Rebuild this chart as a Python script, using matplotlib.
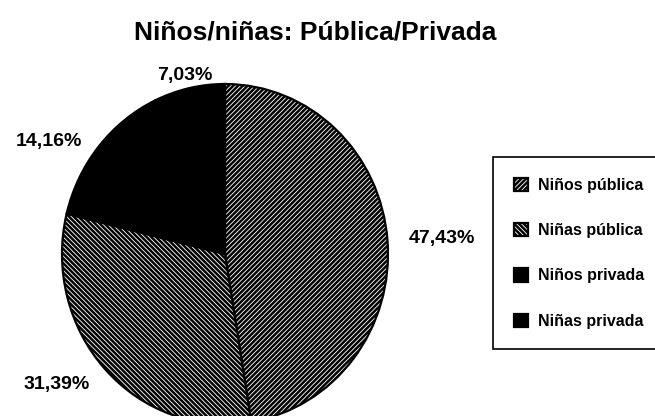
import matplotlib
matplotlib.use('Agg')
import matplotlib.pyplot as plt

plt.rcParams['font.family'] = ['Liberation Sans', 'DejaVu Sans']
plt.rcParams['hatch.linewidth'] = 1.8

title = 'Niños/niñas: Pública/Privada'
categories = ['Niños pública', 'Niñas pública', 'Niños privada', 'Niñas privada']
values = [47.43, 31.39, 14.16, 7.03]
hatches = ['/' * 7, '\\' * 7, '', '']
face_colors = ['white', 'white', 'black', 'black']

labels = [f'{v:.2f}%'.replace('.', ',') for v in values]

W, H = 655, 416
fig = plt.figure(figsize=(W / 100, H / 100), dpi=100)

# pie is drawn as a slightly tall ellipse, bottom runs off the page
ax = fig.add_axes([62 / W, -8 / H, 326 / W, 340 / H])
wedges, texts = ax.pie(values, labels=labels, startangle=90, counterclock=False,
                       colors=face_colors, labeldistance=1.13,
                       wedgeprops=dict(edgecolor='black', linewidth=1.6),
                       textprops=dict(fontsize=14, fontweight='bold'))
for w, h in zip(wedges, hatches):
    w.set_hatch(h)
    w.set_clip_on(False)
texts[2].set_va('top')
texts[3].set_ha('center')
texts[3].set_va('top')
ax.set_aspect('auto')
ax.set_xlim(-1, 1)
ax.set_ylim(-1, 1)
ax.axis('off')

fig.text(315 / W, 1 - 33 / H, title, ha='center', va='center',
         fontsize=19, fontweight='bold')

leg = fig.legend(wedges, categories, loc='upper left',
                 bbox_to_anchor=(493 / W, 1 - 157 / H), borderaxespad=0,
                 prop=dict(size=11.5, weight='bold'),
                 borderpad=1.29, labelspacing=1.89, handlelength=0.9,
                 handleheight=0.9, handletextpad=0.65,
                 fancybox=False, framealpha=1, edgecolor='black')
leg.get_frame().set_linewidth(1.2)

fig.savefig('out.png', dpi=100)
